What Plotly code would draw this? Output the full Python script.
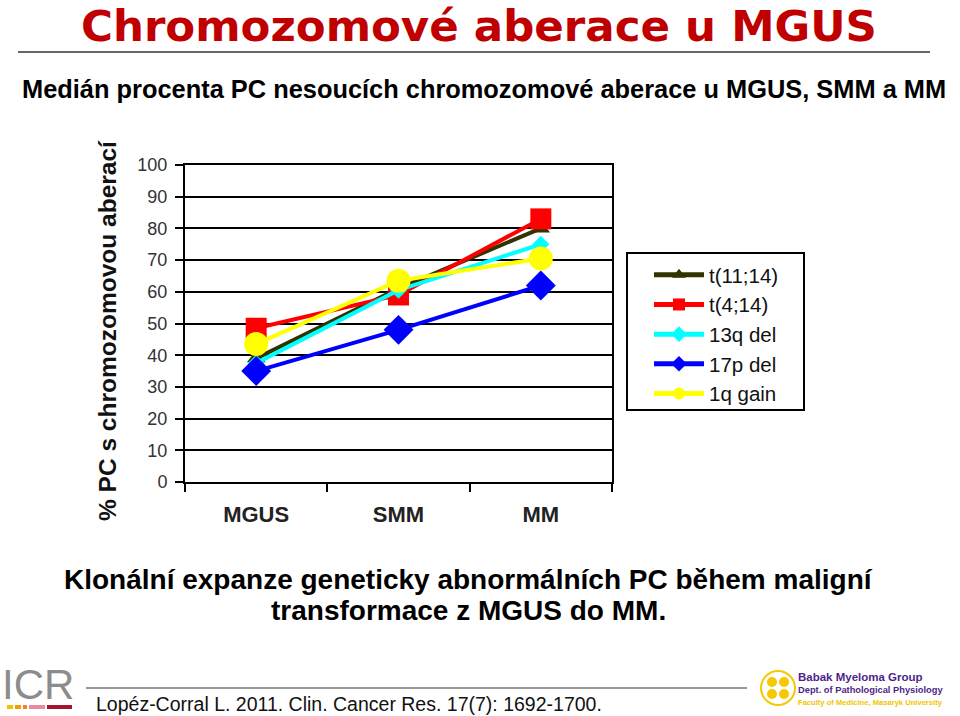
import plotly.graph_objects as go

categories = ["MGUS", "SMM", "MM"]
series_names = ["t(11;14)", "t(4;14)", "13q del", "17p del", "1q gain"]
t11_14 = [39, 61, 80]
t4_14 = [48.5, 59, 83]
del13q = [37.5, 60.5, 75]
del17p = [35, 48, 62]
gain1q = [43.5, 63.5, 70.5]
y_ticks = list(range(0, 101, 10))

W, H = 960, 716
L, R, T, B = 185, 612, 165, 482


def px(x):
    return (x - L) / (R - L)


def py(y):
    return (B - y) / (B - T)


styles = [
    dict(color="#333300", symbol="triangle-up", size=16),
    dict(color="#FF0000", symbol="square", size=21),
    dict(color="#00FFFF", symbol="diamond", size=13),
    dict(color="#0000FF", symbol="diamond", size=23),
    dict(color="#FFFF00", symbol="circle", size=24),
]
values = [t11_14, t4_14, del13q, del17p, gain1q]

fig = go.Figure()
for name, vals, st in zip(series_names, values, styles):
    fig.add_trace(go.Scatter(
        x=categories, y=vals, name=name, mode="lines+markers",
        legendgroup=name,
        line=dict(color=st["color"], width=4),
        marker=dict(color=st["color"], symbol=st["symbol"], size=st["size"]),
    ))

font_main = "Liberation Sans, Arial, sans-serif"
font_title = "DejaVu Sans, Liberation Sans, sans-serif"

fig.update_layout(
    width=W, height=H,
    margin=dict(l=L, r=W - R, t=T, b=H - B, pad=0),
    paper_bgcolor="white", plot_bgcolor="white",
    showlegend=True,
    legend=dict(
        xref="container", yref="container",
        x=649 / W, y=1 - 255 / H, xanchor="left", yanchor="top",
        borderwidth=0, bgcolor="rgba(0,0,0,0)",
        font=dict(family=font_main, size=20.5, color="#111"),
        itemsizing="constant", tracegroupgap=0, itemwidth=50,
    ),
    xaxis=dict(
        range=[-0.5, 2.5], tickson="boundaries", ticks="outside", ticklen=8,
        tickcolor="black", tickwidth=2, showline=True, linecolor="black",
        linewidth=2, mirror=True, showgrid=False, zeroline=False,
        tickfont=dict(family=font_main, size=22, color="#222", weight="bold"),
        ticklabelstandoff=12,
    ),
    yaxis=dict(
        range=[0, 100], tickvals=y_ticks, ticks="outside", ticklen=8,
        tickcolor="black", tickwidth=1.5, showline=True, linecolor="black",
        linewidth=2, mirror=True, showgrid=True, gridcolor="black",
        gridwidth=1.5, zeroline=False,
        tickfont=dict(family=font_main, size=18, color="#333"),
        ticklabelstandoff=4,
    ),
)

anns = []
anns.append(dict(x=px(479), y=py(0), yanchor="top", borderpad=0, text="Chromozomové aberace u MGUS",
                 font=dict(family=font_title, size=43.5, color="#C00000", weight="bold")))
anns.append(dict(x=px(484), y=py(89), text="Medián procenta PC nesoucích chromozomové aberace u MGUS, SMM a MM",
                 font=dict(family=font_main, size=25.4, color="#000", weight="bold")))
anns.append(dict(x=px(107), y=py(331), text="% PC s chromozomovou aberací", textangle=-90,
                 font=dict(family=font_main, size=24.5, color="#111", weight="bold")))
anns.append(dict(x=px(468), y=py(579), text="Klonální expanze geneticky abnormálních PC během maligní",
                 font=dict(family=font_main, size=28, color="#000", weight="bold")))
anns.append(dict(x=px(468), y=py(610), text="transformace z MGUS do MM.",
                 font=dict(family=font_main, size=28, color="#000", weight="bold")))
anns.append(dict(x=px(38), y=py(684), text="ICR",
                 font=dict(family=font_main, size=42, color="#8C8C8C")))
anns.append(dict(x=px(94), y=py(704), text="Lopéz-Corral L. 2011. Clin. Cancer Res. 17(7): 1692-1700.",
                 xanchor="left",
                 font=dict(family=font_main, size=19.5, color="#111")))
anns.append(dict(x=px(797), y=py(677), text="Babak Myeloma Group", xanchor="left", borderpad=0,
                 font=dict(family=font_main, size=11.5, color="#4E1F8A", weight="bold")))
anns.append(dict(x=px(797), y=py(690), text="Dept. of Pathological Physiology", xanchor="left", borderpad=0,
                 font=dict(family=font_main, size=9.3, color="#4E1F8A", weight="bold")))
anns.append(dict(x=px(797), y=py(702), text="Faculty of Medicine, Masaryk University", xanchor="left", borderpad=0,
                 font=dict(family=font_main, size=7.6, color="#F2C500", weight="bold")))
for a in anns:
    a.setdefault("xanchor", "center")
    a.setdefault("yanchor", "middle")
    a.update(xref="paper", yref="paper", showarrow=False)
    fig.add_annotation(**a)

shapes = []
# legend frame
shapes.append(dict(type="rect", x0=px(627), x1=px(804), y0=py(253), y1=py(410),
                   line=dict(color="black", width=2), fillcolor="rgba(0,0,0,0)", layer="below"))
shapes.append(dict(type="line", x0=px(18), x1=px(930), y0=py(52), y1=py(52),
                   line=dict(color="#333", width=1.5)))
shapes.append(dict(type="line", x0=px(86), x1=px(747), y0=py(688), y1=py(688),
                   line=dict(color="#333", width=1.2)))
for x0, x1, c in [(7, 13, "#F2C200"), (15, 21, "#F2A000"), (23, 27, "#F08030"),
                  (29, 45, "#E98AA5"), (47, 72, "#A3162E")]:
    shapes.append(dict(type="rect", x0=px(x0), x1=px(x1), y0=py(705), y1=py(709),
                       line=dict(width=0), fillcolor=c))
shapes.append(dict(type="circle", x0=px(761), x1=px(795), y0=py(671), y1=py(705),
                   line=dict(color="#F5C800", width=2), fillcolor="white"))
for cx, cy in [(772, 682), (784, 682), (772, 694), (784, 694)]:
    shapes.append(dict(type="circle", x0=px(cx - 5), x1=px(cx + 5), y0=py(cy - 5), y1=py(cy + 5),
                       line=dict(width=0), fillcolor="#F5C800"))
for s in shapes:
    s.update(xref="paper", yref="paper")
    fig.add_shape(**s)

fig.write_html("out.html")
